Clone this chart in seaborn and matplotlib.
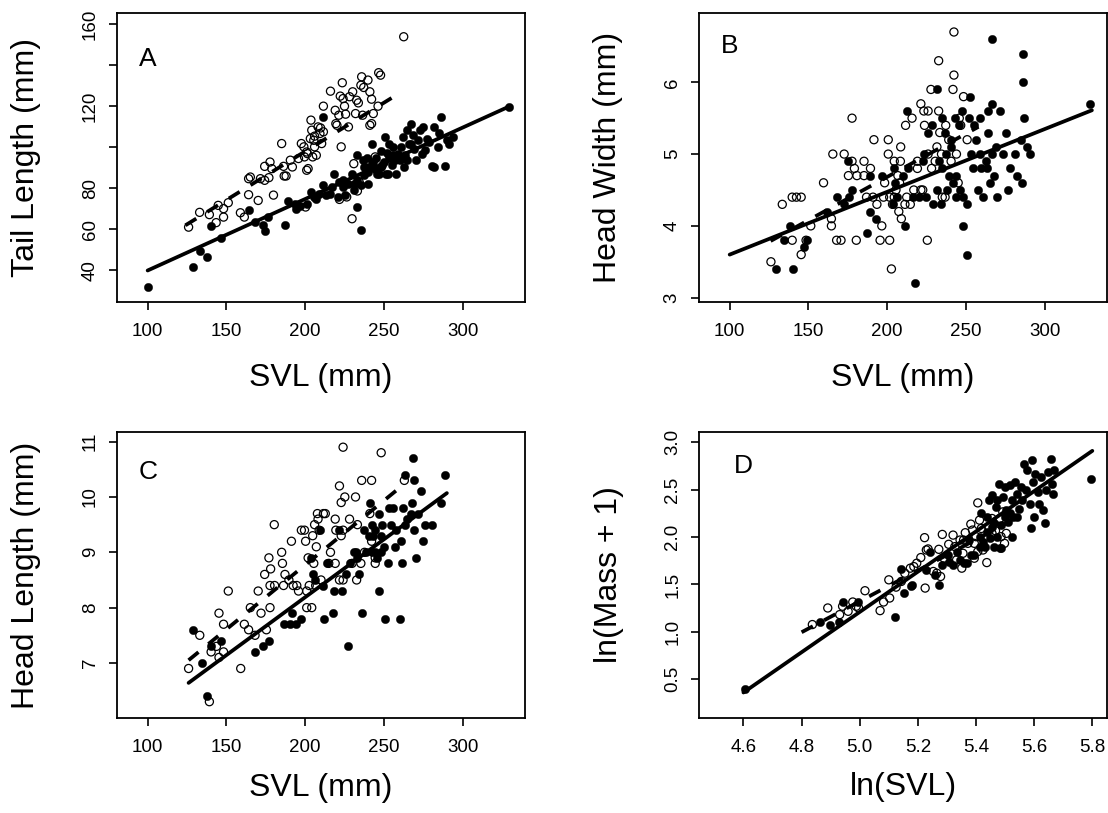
import numpy as np
import pandas as pd
import matplotlib
matplotlib.use("Agg")
import matplotlib.pyplot as plt
import seaborn as sns

# ---------------- DATA ----------------
# Panel A: SVL (mm) vs Tail length (mm); open = one group, filled = other group
A_open = [(126, 61.1), (133, 68.3), (139.2, 67.2), (143.5, 63.3), (148.2, 70.1), (148.2, 66), (151.2, 73),
          (144.8, 71.7), (158.9, 68.1), (161.4, 66), (164.1, 76.9), (164.1, 84.7), (165.2, 85.5), (170.2, 74.1),
          (171.6, 84.7), (174.3, 83.9), (177, 85.2), (177.7, 92.8), (178.8, 89.6), (174.3, 90.7), (179.9, 76.7),
          (185.1, 101.8), (186.7, 86), (187.9, 86), (186.3, 90.7), (190.6, 93.7), (191.9, 90.4), (195.8, 94.5),
          (197.6, 101.8), (199.6, 95.3), (201, 97.7), (201, 88.8), (200.3, 70.9), (201.9, 89.6), (203.7, 113.2),
          (204.2, 108.3), (205.5, 103.4), (206, 100.2), (207.1, 96.1), (208.2, 109.9), (209.4, 106.7),
          (210.5, 101.8), (211.6, 120), (211.6, 107.5), (216.1, 127.3), (219.1, 118), (219.5, 111.5),
          (221.4, 115.6), (222.3, 124.9), (223.6, 131.4), (224.1, 123.7), (222.9, 100.2), (225.7, 116.1),
          (227.5, 109.9), (228.2, 124.6), (230.2, 127), (232, 116.4), (232.7, 122.9), (233.8, 121.6),
          (235.4, 130.2), (235.9, 134.3), (237.2, 129.1), (239.9, 132.7), (241.1, 127), (242.2, 123.4),
          (243.3, 116.4), (242.2, 111.5), (241.1, 110.7), (244.5, 95.3), (246.7, 136.3), (247.9, 135.1),
          (246.3, 120), (262.6, 153.8), (229.8, 65.2), (233.2, 78.7), (221.8, 74.6), (226.4, 75.8), (230.9, 92),
          (234.3, 83.1), (203.3, 104.2), (206, 105.4), (209.8, 109.4), (201.4, 96.9), (199.2, 100.2),
          (204.8, 95.3), (220.2, 110.7), (225, 120), (236.5, 115.6)]
A_filled = [(100, 31.9), (129, 41.6), (133.5, 49.4), (138, 46.8), (140.3, 61.5), (146.6, 55.9), (164.5, 69.3),
            (167.9, 63.6), (173.1, 62.3), (174.7, 59), (176.5, 66), (187.2, 62), (189, 73.7), (194.2, 70.1),
            (196.9, 71.2), (203.7, 78.2), (205.5, 75.8), (207.1, 74.9), (211.6, 114.8), (211.6, 81.5),
            (213.2, 76.6), (218.4, 87.2), (221.8, 83.1), (224.1, 80.7), (225.2, 76.6), (227.5, 82.3),
            (229.8, 87.2), (233.2, 83.9), (233.2, 70.9), (235.4, 59.8), (235.4, 81.5), (233.2, 96.1),
            (236.5, 93.7), (238.8, 90.4), (239.9, 82.3), (242.2, 101.8), (243.3, 92.8), (244.5, 89.6),
            (246.7, 87.2), (249, 91.2), (250.8, 105), (251.3, 87.2), (253.5, 95.3), (255.3, 91.2), (258, 87.2),
            (259.2, 96.9), (260.8, 100.2), (262.1, 105), (263.7, 96.1), (264.4, 108.3), (266, 101.8),
            (267.1, 111.5), (268.3, 105.9), (269.4, 99.3), (270.5, 94), (272.8, 108.3), (275, 109.9),
            (276.1, 98.5), (277.3, 104.2), (278.4, 102.6), (280.3, 90.7), (281.8, 109.9), (284.1, 100.2),
            (286.4, 114.8), (285.2, 106.7), (288.6, 90.9), (289.8, 103.4), (291.6, 101.8), (293.8, 105),
            (329.4, 119.7), (253.4, 101.8), (255.8, 100.2), (256.9, 93.7), (260.3, 93.7), (264.9, 93.7),
            (262.6, 90.4), (247.9, 90.4), (242.2, 92), (237.6, 90.4), (230.9, 82.3), (230.9, 79), (224.1, 83.9),
            (220.7, 75.8), (215.8, 77.4), (216.9, 80.7), (208.9, 77.4), (201.4, 72.5), (193.6, 72.5),
            (237.2, 86.4), (245.6, 87.2), (252.4, 87.2), (267.1, 101.8), (281.8, 90.4), (271.6, 103.4),
            (273.9, 96.9), (240, 88), (245, 95), (250, 93), (248, 98), (252, 97), (256, 96), (239, 95)]
A_solid_fit = [(100, 40), (330, 120)]
A_dashed_fit = [(124, 62), (256, 124.5)]

# Panel B: SVL (mm) vs Head width (mm)
B_open = [(126.2, 3.5), (133.4, 4.3), (139.7, 4.4), (142.4, 4.4), (145.4, 4.4), (139.7, 3.8), (145.4, 3.6),
          (148.5, 3.8), (151.5, 4.0), (159.6, 4.6), (164.6, 4.1), (164.6, 4.0), (165.5, 5.0), (167.9, 3.8),
          (170.7, 3.8), (172.7, 5.0), (175.4, 4.7), (177.7, 5.5), (177.7, 4.9), (179.2, 4.8), (180.4, 3.8),
          (180.8, 4.7), (185.3, 4.9), (185.3, 4.7), (186.9, 4.4), (189.4, 4.8), (191.6, 5.2), (193.5, 4.3),
          (195.5, 3.8), (196.6, 4.0), (198.4, 4.6), (200.7, 5.2), (200.7, 5.0), (201.6, 3.8), (201.6, 4.4),
          (202.7, 3.4), (203.4, 4.3), (204.5, 4.9), (204.5, 4.4), (205.6, 4.5), (206.8, 4.7), (207.4, 4.2),
          (207.9, 4.6), (208.4, 4.9), (209.0, 4.1), (208.6, 5.1), (211.3, 4.3), (211.7, 5.4), (212.4, 4.4),
          (215.8, 5.5), (216.9, 4.5), (219.2, 4.9), (219.2, 4.8), (221.4, 5.7), (223.3, 5.6), (223.7, 5.4),
          (222.6, 4.5), (225.5, 3.8), (226.0, 5.6), (226.0, 5.0), (227.8, 5.9), (228.2, 4.8), (230.5, 4.9),
          (232.7, 6.3), (232.7, 5.6), (233.4, 5.3), (234.5, 5.0), (235.0, 4.4), (236.8, 4.4), (239.1, 5.2),
          (240.6, 4.9), (241.8, 5.9), (242.4, 6.7), (242.4, 6.1), (245.1, 4.6), (244.0, 5.0), (245.8, 5.5),
          (246.7, 5.4), (248.5, 5.8), (250.8, 5.2), (237.2, 5.4), (231.6, 5.1), (221.4, 4.5), (214.7, 4.3),
          (197.7, 4.4), (191.0, 4.4)]
B_filled = [(129.3, 3.4), (134.5, 3.8), (138.4, 4.0), (140.2, 3.4), (147.4, 3.7), (148.8, 3.8), (161.6, 4.2),
            (168.4, 4.4), (172.5, 4.3), (175.4, 4.9), (177.7, 4.5), (175.8, 4.4), (187.1, 3.9), (189.4, 4.2),
            (189.4, 4.7), (192.6, 4.1), (196.6, 4.7), (203.8, 4.3), (204.5, 4.8), (205.2, 4.6), (206.1, 4.4),
            (210.2, 4.7), (211.3, 4.0), (212.4, 5.6), (213.5, 4.8), (216.5, 4.4), (217.4, 3.2), (220.3, 4.4),
            (222.6, 4.9), (223.3, 5.0), (224.8, 4.4), (226.0, 5.3), (228.7, 5.4), (229.3, 4.3), (231.6, 5.9),
            (231.6, 4.5), (233.2, 4.9), (234.5, 4.3), (235.0, 5.5), (236.8, 5.3), (237.7, 4.5), (239.5, 4.7),
            (240.6, 5.1), (241.8, 4.6), (242.9, 5.5), (244.0, 4.7), (244.0, 4.4), (245.8, 5.4), (246.3, 4.5),
            (247.4, 5.6), (247.9, 4.4), (248.1, 4.0), (250.4, 3.6), (250.4, 4.3), (251.9, 5.5), (252.6, 5.8),
            (253.5, 5.0), (254.2, 4.8), (255.3, 5.4), (256.4, 5.2), (257.6, 4.5), (259.1, 5.5), (259.8, 4.8),
            (260.9, 4.4), (262.5, 4.9), (263.9, 5.6), (264.3, 5.3), (265.5, 4.6), (266.6, 6.6), (266.6, 5.7),
            (266.6, 5.0), (267.7, 4.7), (268.9, 5.1), (269.6, 4.4), (271.6, 5.6), (273.4, 5.0), (275.6, 5.3),
            (276.7, 4.5), (277.9, 4.8), (281.3, 5.0), (282.4, 4.7), (285.1, 5.2), (285.8, 4.6), (286.5, 6.4),
            (286.5, 6.0), (286.9, 5.5), (288.7, 5.1), (291.0, 5.0), (328.7, 5.7), (237.2, 5.0), (240.6, 5.2),
            (235.0, 4.8), (259.1, 5.0), (263.5, 4.8)]
B_solid_fit = [(100, 3.6), (330, 5.61)]
B_dashed_fit = [(126, 3.79), (258, 5.38)]

# Panel C: SVL (mm) vs Head length (mm)
C_open = [(126, 6.9), (133.1, 7.5), (139.2, 6.3), (140.3, 7.2), (143.7, 7.3), (145.3, 7.9), (145.3, 7.1),
          (148.2, 7.7), (148.2, 7.2), (151.2, 8.3), (159.1, 6.9), (161.4, 7.7), (164.1, 7.6), (165.2, 8.0),
          (168.2, 7.5), (170.2, 8.3), (172.0, 7.9), (174.3, 8.6), (175.4, 7.6), (177.0, 8.9), (177.7, 8.0),
          (178.1, 8.7), (177.7, 8.4), (180.4, 9.5), (180.6, 8.4), (185.1, 9.0), (185.6, 8.8), (187.2, 8.6),
          (186.3, 8.4), (189.7, 8.5), (191.3, 9.2), (192.4, 8.4), (194.7, 8.4), (195.8, 8.3), (197.6, 9.4),
          (199.6, 9.4), (200.3, 9.2), (201.0, 8.3), (201.0, 8.0), (201.9, 8.9), (202.6, 8.4), (204.2, 8.0),
          (204.8, 9.3), (205.5, 8.8), (206.0, 9.5), (206.7, 8.4), (207.1, 9.1), (207.8, 9.7), (208.2, 9.6),
          (208.9, 9.4), (210.1, 8.5), (211.6, 9.7), (212.8, 9.7), (216.1, 9.0), (219.1, 9.6), (219.1, 8.8),
          (221.8, 10.2), (221.8, 8.5), (222.9, 9.9), (222.9, 9.3), (224.1, 10.9), (225.2, 10.0), (228.2, 9.6),
          (229.8, 8.8), (232.0, 10.0), (232.7, 8.5), (233.2, 9.5), (235.9, 10.3), (235.4, 8.8), (237.7, 9.0),
          (242.2, 10.3), (242.2, 9.2), (241.1, 9.7), (244.5, 8.8), (248.3, 10.8), (244.5, 8.9), (263.0, 10.3),
          (219.5, 9.4), (224.1, 9.4), (215.0, 8.8), (224.1, 8.5)]
C_filled = [(129, 7.6), (134.2, 7.0), (137.6, 6.4), (140.3, 7.3), (146.6, 7.4), (167.9, 7.2), (173.1, 7.3),
            (177.0, 7.4), (186.7, 7.7), (190.1, 7.7), (194.2, 7.7), (197.4, 7.8), (191.9, 7.9), (203.7, 8.9),
            (204.8, 8.6), (206.0, 8.5), (209.4, 9.4), (211.6, 8.4), (212.3, 7.8), (213.9, 8.8), (217.4, 7.9),
            (218.4, 8.3), (221.8, 9.4), (223.6, 8.3), (225.9, 8.6), (227.5, 7.3), (228.6, 8.8), (230.9, 9.0),
            (233.2, 8.9), (234.3, 8.6), (235.9, 7.9), (237.2, 9.4), (238.8, 9.0), (241.1, 9.9), (242.2, 9.5),
            (242.2, 9.0), (243.3, 9.3), (244.5, 9.0), (246.7, 9.7), (247.2, 8.3), (247.9, 9.3), (250.1, 9.1),
            (250.8, 7.8), (252.4, 8.8), (253.5, 9.8), (254.7, 9.5), (255.8, 9.8), (256.9, 9.1), (260.3, 7.8),
            (260.8, 9.2), (261.5, 8.8), (262.1, 9.8), (263.7, 10.4), (263.7, 9.5), (264.9, 9.6), (267.1, 9.7),
            (267.6, 9.9), (268.3, 10.7), (269.0, 10.3), (269.4, 9.4), (270.5, 8.9), (271.6, 9.7), (273.5, 10.1),
            (275.0, 9.2), (276.1, 9.5), (280.7, 9.5), (286.4, 9.9), (288.6, 10.4), (240.4, 9.3), (244.5, 9.4),
            (249.0, 9.5), (258.0, 9.4), (245.6, 8.9), (247.9, 9.0), (232.0, 9.0)]
C_solid_fit = [(126, 6.64), (290, 10.07)]
C_dashed_fit = [(126, 7.05), (258, 10.12)]

# Panel D: ln(SVL) vs ln(Mass + 1)
D_open = [(4.837, 1.077), (4.890, 1.252), (4.931, 1.182), (4.941, 1.270), (4.960, 1.217), (4.976, 1.315),
          (4.988, 1.270), (4.996, 1.252), (5.018, 1.434), (5.070, 1.224), (5.082, 1.315), (5.100, 1.549),
          (5.103, 1.357), (5.125, 1.472), (5.143, 1.532), (5.155, 1.619), (5.174, 1.672), (5.196, 1.724),
          (5.210, 1.784), (5.223, 1.994), (5.225, 1.462), (5.235, 1.875), (5.253, 1.637), (5.265, 1.619),
          (5.272, 1.871), (5.278, 1.584), (5.284, 2.028), (5.290, 1.777), (5.306, 1.924), (5.321, 2.021),
          (5.327, 1.899), (5.333, 1.759), (5.345, 1.969), (5.351, 1.672), (5.355, 1.829), (5.363, 2.046),
          (5.372, 1.934), (5.382, 2.137), (5.388, 2.074), (5.394, 1.777), (5.400, 2.004), (5.406, 2.361),
          (5.412, 2.179), (5.406, 1.847), (5.424, 1.864), (5.437, 1.731), (5.443, 2.109), (5.455, 2.196),
          (5.467, 2.067), (5.482, 2.196), (5.492, 2.266), (5.498, 1.934), (5.504, 2.039), (5.394, 1.934),
          (5.357, 1.969), (5.418, 2.091), (5.455, 2.039), (5.486, 2.004), (5.229, 1.864), (5.186, 1.689)]
D_filled = [(4.605, 0.402), (4.862, 1.102), (4.898, 1.070), (4.927, 1.102), (4.941, 1.312), (4.993, 1.312),
            (5.122, 1.158), (5.143, 1.661), (5.153, 1.409), (5.176, 1.479), (5.180, 1.497), (5.229, 1.654),
            (5.241, 1.847), (5.259, 1.595), (5.272, 1.497), (5.284, 1.707), (5.302, 1.812), (5.308, 1.742),
            (5.321, 1.707), (5.333, 1.847), (5.345, 1.759), (5.357, 1.724), (5.369, 1.724), (5.376, 1.969),
            (5.382, 1.812), (5.394, 1.812), (5.412, 2.004), (5.418, 2.249), (5.424, 1.951), (5.431, 1.899),
            (5.437, 2.056), (5.443, 2.389), (5.449, 1.987), (5.455, 2.441), (5.461, 2.144), (5.467, 2.319),
            (5.473, 2.004), (5.480, 2.564), (5.482, 1.882), (5.486, 2.126), (5.492, 2.424), (5.498, 2.529),
            (5.504, 2.284), (5.510, 2.161), (5.516, 2.546), (5.522, 2.389), (5.528, 2.214), (5.535, 2.581),
            (5.541, 2.459), (5.547, 2.301), (5.553, 2.529), (5.559, 2.389), (5.565, 2.774), (5.571, 2.494),
            (5.577, 2.704), (5.584, 2.354), (5.590, 2.091), (5.592, 2.809), (5.596, 2.581), (5.599, 2.214),
            (5.604, 2.669), (5.612, 2.476), (5.617, 2.354), (5.624, 2.634), (5.629, 2.284), (5.636, 2.144),
            (5.641, 2.494), (5.648, 2.686), (5.657, 2.826), (5.663, 2.564), (5.665, 2.459), (5.669, 2.704),
            (5.795, 2.616), (5.412, 1.899), (5.461, 1.899), (5.486, 1.882), (5.522, 2.004), (5.498, 2.214),
            (5.473, 2.389), (5.516, 2.249), (5.541, 2.214), (5.455, 2.109), (5.437, 2.214)]
D_solid_fit = [(4.6, 0.36), (5.8, 2.91)]
D_dashed_fit = [(4.8, 0.996), (5.52, 2.17)]

# Axis texts
svl_ticks = [100, 150, 200, 250, 300]
A_yticks = [40, 60, 80, 100, 120, 140, 160]
A_yticklabels = ["40", "60", "80", "", "120", "", "160"]
B_yticks = [3, 4, 5, 6]
C_yticks = [7, 8, 9, 10, 11]
D_xticks = [4.6, 4.8, 5.0, 5.2, 5.4, 5.6, 5.8]
D_xticklabels = ["4.6", "4.8", "5.0", "5.2", "5.4", "5.6", "5.8"]
D_yticks = [0.5, 1.0, 1.5, 2.0, 2.5, 3.0]
D_yticklabels = ["0.5", "1.0", "1.5", "2.0", "2.5", "3.0"]

# ---------------- STYLE ----------------
sns.set_style("ticks")
plt.rcParams['font.family'] = ['Liberation Sans', 'DejaVu Sans']
plt.rcParams['text.color'] = 'black'
plt.rcParams['axes.labelcolor'] = 'black'
plt.rcParams['xtick.color'] = 'black'
plt.rcParams['ytick.color'] = 'black'

FIG_W, FIG_H = 1108, 813
fig = plt.figure(figsize=(FIG_W / 100, FIG_H / 100), dpi=100)


def to_df(pairs):
    arr = np.array(pairs, dtype=float)
    return pd.DataFrame({"x": arr[:, 0], "y": arr[:, 1]})


def panel(rect, open_pts, filled_pts, solid, dashed, xlim, ylim, xticks, xticklabels,
          yticks, yticklabels, xlabel, ylabel, letter, letter_xy, xlab_y):
    ax = fig.add_axes(rect)
    do = to_df(open_pts)
    dfl = to_df(filled_pts)
    sns.scatterplot(data=do, x="x", y="y", ax=ax, marker="o", s=34,
                    facecolors="none", edgecolor="black", linewidth=0.9, zorder=3)
    sns.scatterplot(data=dfl, x="x", y="y", ax=ax, marker="o", s=36,
                    color="black", edgecolor="black", linewidth=0.3, zorder=3)
    ds = to_df(solid)
    dd = to_df(dashed)
    sns.lineplot(data=ds, x="x", y="y", ax=ax, color="black", lw=2.7,
                 estimator=None, sort=False, zorder=4)
    sns.lineplot(data=dd, x="x", y="y", ax=ax, color="black", lw=2.7,
                 estimator=None, sort=False, zorder=4, linestyle=(0, (3.4, 3.4)))
    ax.set_xlim(*xlim)
    ax.set_ylim(*ylim)
    ax.set_xticks(xticks)
    ax.set_xticklabels(xticklabels)
    ax.set_yticks(yticks)
    ax.set_yticklabels(yticklabels)
    ax.tick_params(direction="out", length=6, width=1.2, labelsize=13.5, pad=9, colors="black")
    ax.tick_params(axis="y", labelrotation=90, pad=7)
    for lbl in ax.get_yticklabels():
        lbl.set_va("center")
    for sp in ax.spines.values():
        sp.set_visible(True)
        sp.set_linewidth(1.3)
        sp.set_color("black")
    ax.set_xlabel(xlabel, fontsize=23)
    ax.set_ylabel(ylabel, fontsize=23)
    ax.xaxis.set_label_coords(0.5, xlab_y)
    ax.xaxis.label.set_va("center")
    ax.yaxis.set_label_coords(-0.222, 0.5)
    ax.yaxis.label.set_va("center")
    ax.text(letter_xy[0], letter_xy[1], letter, fontsize=19, ha="center", va="center")
    return ax


svl_lab = [str(t) for t in svl_ticks]
panel([0.1054, 0.6289, 0.3684, 0.3547], A_open, A_filled, A_solid_fit, A_dashed_fit,
      (80.4, 339.6), (24.8, 165.2), svl_ticks, svl_lab, A_yticks, A_yticklabels,
      "SVL (mm)", "Tail Length (mm)", "A", (100, 143), -0.2656)
panel([0.6307, 0.6289, 0.3684, 0.3547], B_open, B_filled, B_solid_fit, B_dashed_fit,
      (80.4, 339.6), (2.944, 6.96), svl_ticks, svl_lab, B_yticks, [str(t) for t in B_yticks],
      "SVL (mm)", "Head Width (mm)", "B", (100, 6.5), -0.2656)
panel([0.1054, 0.1165, 0.3684, 0.3525], C_open, C_filled, C_solid_fit, C_dashed_fit,
      (80.4, 339.6), (6.0, 11.18), svl_ticks, svl_lab, C_yticks, [str(t) for t in C_yticks],
      "SVL (mm)", "Head Length (mm)", "C", (100, 10.45), -0.242)
panel([0.6311, 0.1165, 0.3684, 0.3525], D_open, D_filled, D_solid_fit, D_dashed_fit,
      (4.448, 5.852), (0.088, 3.112), D_xticks, D_xticklabels, D_yticks, D_yticklabels,
      "ln(SVL)", "ln(Mass + 1)", "D", (4.6, 2.75), -0.24)

fig.savefig("out.png", dpi=100)
